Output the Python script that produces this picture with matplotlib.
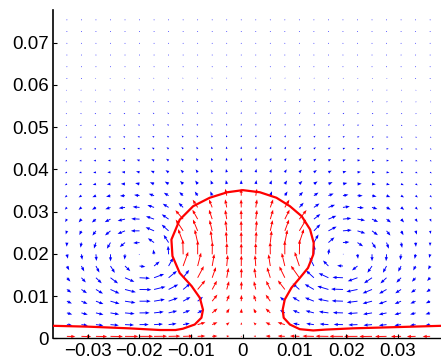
import numpy as np
import matplotlib
matplotlib.use('Agg')
import matplotlib.pyplot as plt
from matplotlib.path import Path
from matplotlib.ticker import FuncFormatter

# free surface of the drop and the film it sits on (left film end -> right film end)
interface_x = [-0.0368, -0.0300, -0.0220, -0.0160, -0.0130, -0.0116, -0.0093, -0.0080,
               -0.0077, -0.0083, -0.0099, -0.0122, -0.0136, -0.0138, -0.0122, -0.0096,
               -0.0064, -0.0030, 0.0000, 0.0033, 0.0065, 0.0091, 0.0114, 0.0130,
               0.0137, 0.0136, 0.0126, 0.0110, 0.0094, 0.0081, 0.0077, 0.0079,
               0.0091, 0.0110, 0.0136, 0.0160, 0.0213, 0.0300, 0.0385]
interface_y = [0.0030, 0.0028, 0.0024, 0.0020, 0.0020, 0.0023, 0.0033, 0.0049,
               0.0068, 0.0096, 0.0124, 0.0155, 0.0195, 0.0234, 0.0281, 0.0313,
               0.0333, 0.0346, 0.0351, 0.0346, 0.0333, 0.0313, 0.0289, 0.0258,
               0.0226, 0.0198, 0.0167, 0.0143, 0.0120, 0.0092, 0.0068, 0.0049,
               0.0033, 0.0022, 0.0019, 0.0021, 0.0024, 0.0027, 0.0030]

# recirculation cells on either side of the drop (wall at y = 0)
vortex_x = [-0.019, 0.019]
vortex_y = [0.019, 0.019]
vortex_gamma = [1.0, -1.0]
core_radius = 0.0065

# sampling grid of the velocity field
grid_x = np.linspace(-0.0340, 0.0362, 26)
grid_y = np.linspace(0.0005, 0.0754, 28)

xticks = [-0.03, -0.02, -0.01, 0, 0.01, 0.02, 0.03]
yticks = [0, 0.01, 0.02, 0.03, 0.04, 0.05, 0.06, 0.07]


def vortex_velocity(X, Y, x0, y0, gamma, rc):
    dx = X - x0
    dy = Y - y0
    r2 = dx ** 2 + dy ** 2 + 1e-12
    f = gamma / (2 * np.pi * r2) * (1 - np.exp(-r2 / rc ** 2))
    return -f * dy, f * dx


def velocity(X, Y):
    U = np.zeros_like(X)
    V = np.zeros_like(X)
    for x0, y0, g in zip(vortex_x, vortex_y, vortex_gamma):
        u, v = vortex_velocity(X, Y, x0, y0, g, core_radius)
        U += u
        V += v
        # image below the wall
        u, v = vortex_velocity(X, Y, x0, -y0, -g, core_radius)
        U += u
        V += v
    return U, V


X, Y = np.meshgrid(grid_x, grid_y)
U, V = velocity(X, Y)

# liquid region = inside the drop plus the film under the interface
poly = list(zip(interface_x, interface_y)) + [(interface_x[-1], -0.01), (interface_x[0], -0.01)]
liquid = Path(poly).contains_points(np.column_stack([X.ravel(), Y.ravel()])).reshape(X.shape)

fig = plt.figure(figsize=(4.41, 3.62), dpi=100)
ax = fig.add_axes([0.120, 0.065, 0.880, 0.907])

spd = np.hypot(U, V)
out_scale = spd[~liquid].max() / 0.0023
in_scale = spd[liquid].max() / 0.0035

arrow_kw = dict(angles='xy', scale_units='xy', width=0.0024,
                headwidth=3.5, headlength=4.5, headaxislength=4.2)
ax.quiver(X[~liquid], Y[~liquid], U[~liquid], V[~liquid], color='blue',
          scale=out_scale, **arrow_kw)
ax.quiver(X[liquid], Y[liquid], U[liquid], V[liquid], color='red',
          scale=in_scale, **arrow_kw)

ax.plot(interface_x, interface_y, color='red', lw=1.6, zorder=5)

ax.set_xlim(-0.0367, 0.0383)
ax.set_ylim(0, 0.0777)

ax.spines['top'].set_visible(False)
ax.spines['right'].set_visible(False)
ax.spines['left'].set_linewidth(1.2)
ax.spines['bottom'].set_linewidth(1.0)

fmt = FuncFormatter(lambda v, p: f"{v:g}".replace('-', '\u2212') if abs(v) > 1e-12 else '0')
ax.set_xticks(xticks)
ax.set_yticks(yticks)
ax.xaxis.set_major_formatter(fmt)
ax.yaxis.set_major_formatter(fmt)
ax.tick_params(direction='in', length=3, width=0.8, labelsize=13.5, pad=3)
for lab in ax.get_xticklabels() + ax.get_yticklabels():
    lab.set_fontfamily('Liberation Sans')

fig.savefig('out.png', dpi=100)
